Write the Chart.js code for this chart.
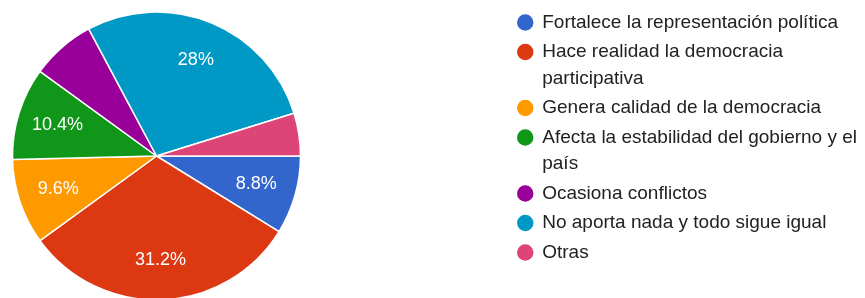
<!DOCTYPE html>
<html>
<head>
<meta charset="utf-8">
<script src="https://cdn.jsdelivr.net/npm/chart.js@4/dist/chart.umd.min.js"></script>
<style>
  html, body { margin: 0; padding: 0; background: #ffffff; }
  #wrap { position: relative; width: 865px; height: 298px; }
</style>
</head>
<body>
<div id="wrap"><canvas id="c" width="865" height="298"></canvas></div>
<script>
// Categories (legend labels; arrays = wrapped lines as in the reference)
const categories = [
  ["Fortalece la representación política"],
  ["Hace realidad la democracia", "participativa"],
  ["Genera calidad de la democracia"],
  ["Afecta la estabilidad del gobierno y el", "país"],
  ["Ocasiona conflictos"],
  ["No aporta nada y todo sigue igual"],
  ["Otras"]
];
// Share of responses, percent
const percentages = [8.8, 31.2, 9.6, 10.4, 7.2, 28, 4.8];
const sliceColors = ["#3366cc", "#dc3912", "#ff9900", "#109618", "#990099", "#0099c6", "#dd4477"];

const FONT = "Arial, 'Liberation Sans', Helvetica, sans-serif";

// Place the pie in the left part of the canvas, like the reference
const placePie = {
  id: 'placePie',
  afterLayout(chart) {
    const ca = chart.chartArea;
    const cx = 156.5, cy = 156, half = 146;
    ca.left = cx - half; ca.right = cx + half;
    ca.top = cy - half; ca.bottom = cy + half;
    ca.width = 2 * half; ca.height = 2 * half;
  }
};

// Percentage labels inside slices
const sliceLabels = {
  id: 'sliceLabels',
  afterDatasetsDraw(chart) {
    const ctx = chart.ctx;
    const meta = chart.getDatasetMeta(0);
    const data = chart.data.datasets[0].data;
    const total = data.reduce((a, b) => a + b, 0);
    ctx.save();
    ctx.font = "18px " + FONT;
    ctx.fillStyle = "#ffffff";
    ctx.textAlign = "center";
    ctx.textBaseline = "middle";
    meta.data.forEach((arc, i) => {
      const pct = data[i] / total * 100;
      if (pct < 8) return;
      const p = arc.getProps(['x', 'y', 'startAngle', 'endAngle', 'outerRadius'], true);
      const mid = (p.startAngle + p.endAngle) / 2;
      const r = p.outerRadius * 0.72;
      const txt = parseFloat(pct.toFixed(1)) + "%";
      ctx.fillText(txt, p.x + Math.cos(mid) * r, p.y + Math.sin(mid) * r);
    });
    ctx.restore();
  }
};

new Chart(document.getElementById('c'), {
  type: 'pie',
  data: {
    labels: categories,
    datasets: [{
      data: percentages,
      backgroundColor: sliceColors,
      borderColor: "#ffffff",
      borderWidth: 1.5,
      hoverOffset: 0
    }]
  },
  options: {
    responsive: false,
    animation: false,
    rotation: 90,
    radius: 144,
    layout: { padding: { top: 10, right: -2, bottom: 0, left: 0 } },
    plugins: {
      tooltip: { enabled: false },
      legend: {
        position: 'right',
        align: 'start',
        labels: {
          usePointStyle: true,
          pointStyle: 'circle',
          boxWidth: 15,
          boxHeight: 12.7,
          padding: 3,
          color: "#222222",
          font: { family: FONT, size: 19, lineHeight: 26.5 / 19 }
        }
      }
    }
  },
  plugins: [placePie, sliceLabels]
});
</script>
</body>
</html>
